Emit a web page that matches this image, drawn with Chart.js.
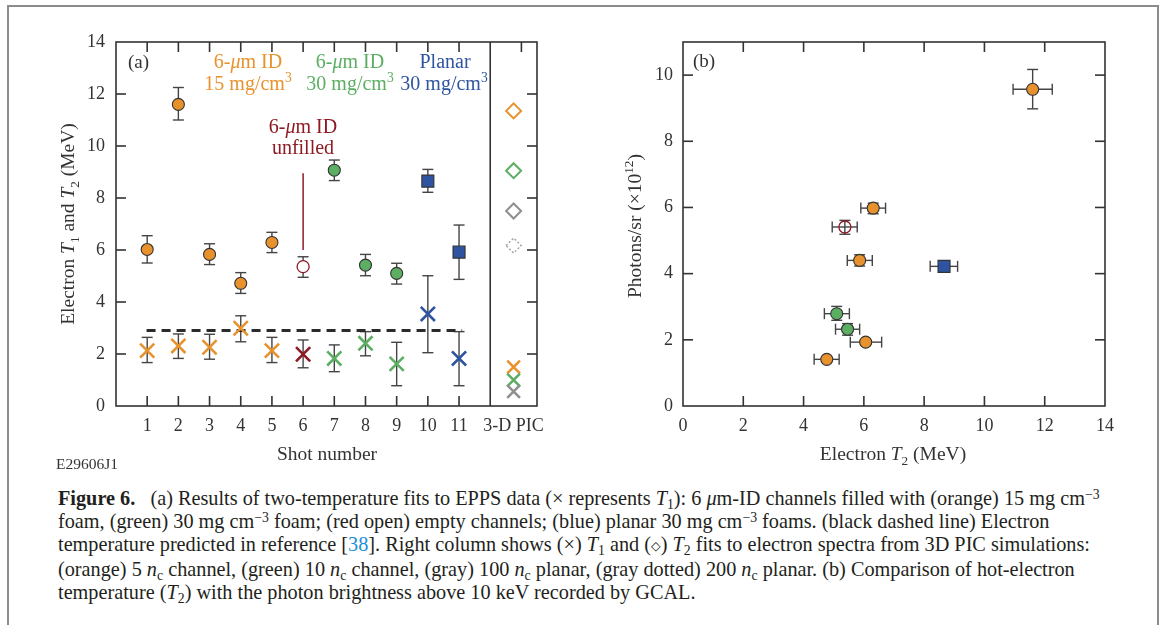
<!DOCTYPE html>
<html><head><meta charset="utf-8">
<script src="https://cdn.jsdelivr.net/npm/chart.js@4.4.1/dist/chart.umd.min.js"></script>
<style>
html,body{margin:0;padding:0;background:#fff;}
body{width:1165px;height:625px;position:relative;overflow:hidden;font-family:"Liberation Serif","DejaVu Serif",serif;}
#frame{position:absolute;left:7px;top:5px;width:1152px;height:660px;border:2px solid #8c8c8c;box-sizing:border-box;}
#cA{position:absolute;left:0;top:0;}
#cB{position:absolute;left:580px;top:0;}
#cap{position:absolute;left:58px;top:487px;color:#231f20;line-height:23px;white-space:nowrap;font-size:18.5px;}
.ln{display:block;width:max-content;}
#cap sub,#cap sup{font-size:0.68em;line-height:0;position:relative;vertical-align:baseline;}
#cap sub{top:0.3em;} #cap sup{top:-0.45em;}
.ref{color:#1b8fd6;}
.dia{font-family:"DejaVu Sans",sans-serif;font-size:0.62em;position:relative;top:-0.12em;}
</style></head>
<body>
<div id="frame"></div>
<canvas id="cA" width="580" height="480"></canvas>
<canvas id="cB" width="585" height="480"></canvas>
<div id="cap">
<div class="ln"><b>Figure 6.</b>&nbsp;&nbsp; (a) Results of two-temperature fits to EPPS data (× represents <i>T</i><sub>1</sub>): 6 <i>μ</i>m-ID channels filled with (orange) 15 mg cm<sup>−3</sup></div>
<div class="ln">foam, (green) 30 mg cm<sup>−3</sup> foam; (red open) empty channels; (blue) planar 30 mg cm<sup>−3</sup> foams. (black dashed line) Electron</div>
<div class="ln">temperature predicted in reference [<span class="ref">38</span>]. Right column shows (×) <i>T</i><sub>1</sub> and (<span class="dia">◇</span>) <i>T</i><sub>2</sub> fits to electron spectra from 3D PIC simulations:</div>
<div class="ln">(orange) 5 <i>n</i><sub>c</sub> channel, (green) 10 <i>n</i><sub>c</sub> channel, (gray) 100 <i>n</i><sub>c</sub> planar, (gray dotted) 200 <i>n</i><sub>c</sub> planar. (b) Comparison of hot-electron</div>
<div class="ln">temperature (<i>T</i><sub>2</sub>) with the photon brightness above 10 keV recorded by GCAL.</div>
</div>
<script>
// ---------------- Panel (a) data ----------------
const shotNumbers = [1, 2, 3, 4, 5, 6, 7, 8, 9, 10, 11];
const shotGroups  = ['o15','o15','o15','o15','o15','unf','g30','g30','g30','pl','pl'];
const t2Values = [6.02, 11.60, 5.83, 4.72, 6.29, 5.36, 9.07, 5.42, 5.10, 8.65, 5.92];
const t2Low    = [5.50, 11.00, 5.44, 4.33, 5.90, 4.95, 8.67, 5.01, 4.69, 8.22, 4.87];
const t2High   = [6.55, 12.25, 6.24, 5.13, 6.68, 5.74, 9.46, 5.83, 5.49, 9.10, 6.96];
const t1Values = [2.13, 2.31, 2.26, 2.99, 2.13, 1.99, 1.83, 2.41, 1.62, 3.54, 1.83];
const t1Low    = [1.67, 1.83, 1.80, 2.47, 1.67, 1.47, 1.32, 1.93, 0.78, 2.05, 0.78];
const t1High   = [2.64, 2.77, 2.76, 3.47, 2.64, 2.54, 2.35, 2.86, 2.45, 5.01, 2.86];
const picX = 12.75;
const picT2Values = [11.35, 9.05, 7.50];   // orange, green, gray
const picT2Dotted = [6.17];                // gray dotted (200 nc planar)
const picT1Values = [1.50, 1.00, 0.56];    // orange, green, gray
const predictedT1 = 2.9;
const predictedFrom = 0.98, predictedTo = 11.1;
const unfilledLine = [6.0, 8.95];          // annotation pointer at shot 6
const dividerX = 12;
const xTickValues = [1, 2, 3, 4, 5, 6, 7, 8, 9, 10, 11, 12.75];
const xTickLabels = ['1','2','3','4','5','6','7','8','9','10','11','3-D PIC'];
const yTickValuesA = [0, 2, 4, 6, 8, 10, 12, 14];

// ---------------- Panel (b) data ----------------
const bOrangeT2   = [11.60, 6.31, 5.86, 6.06, 4.77];
const bOrangePh   = [9.57, 5.98, 4.40, 1.93, 1.41];
const bOrangeXErr = [[10.95,12.25],[5.90,6.72],[5.45,6.28],[5.55,6.59],[4.35,5.18]];
const bOrangeYErr = [[8.98,10.17],[5.81,6.13],[4.23,4.57],null,null];
const bUnfT2 = [5.37], bUnfPh = [5.41];
const bUnfXErr = [[4.95,5.78]], bUnfYErr = [[5.19,5.61]];
const bGreenT2 = [5.10, 5.46], bGreenPh = [2.79, 2.32];
const bGreenXErr = [[4.69,5.52],[5.06,5.86]], bGreenYErr = [[2.59,3.01],[2.14,2.49]];
const bPlanarT2 = [8.66], bPlanarPh = [4.22];
const bPlanarXErr = [[8.20,9.11]], bPlanarYErr = [null];
const xTickValuesB = [0, 2, 4, 6, 8, 10, 12, 14];
const yTickValuesB = [0, 2, 4, 6, 8, 10];

// ---------------- styles ----------------
const SERIF = '"Liberation Serif", "DejaVu Serif", serif';
const ORANGE = '#E8922E', GREEN = '#5BAE62', BLUE = '#2E54A1', DRED = '#8E1B24', GRAY = '#8F8F8F';
const INK = '#333333', ERR = '#444444';
Chart.defaults.font.family = SERIF;
Chart.defaults.color = INK;

const groupStyle = {
  o15: {color: ORANGE, style: 'circle', fill: ORANGE, border: INK, r: 6},
  unf: {color: DRED,   style: 'circle', fill: '#ffffff', border: DRED, r: 6},
  g30: {color: GREEN,  style: 'circle', fill: GREEN, border: INK, r: 6},
  pl:  {color: BLUE,   style: 'rect',   fill: BLUE, border: INK, r: 8.5}
};

function line(ctx, x1, y1, x2, y2) { ctx.beginPath(); ctx.moveTo(x1, y1); ctx.lineTo(x2, y2); ctx.stroke(); }
function fontOf(r) { return (r.i ? 'italic ' : '') + (r.b ? 'bold ' : '') + r.s + 'px ' + SERIF; }
function drawRich(ctx, it) {
  const base = it.size || 19.5;
  const runs = it.runs.map(r => {
    const rr = Object.assign({}, r);
    rr.s = base; rr.dy = 0;
    if (r.sup) { rr.s = base * 0.68; rr.dy = -base * 0.42; }
    if (r.sub) { rr.s = base * 0.68; rr.dy = base * 0.28; }
    return rr;
  });
  ctx.save();
  ctx.translate(it.x, it.y);
  if (it.rotate) ctx.rotate(-Math.PI / 2);
  let w = 0;
  runs.forEach(r => { ctx.font = fontOf(r); w += ctx.measureText(r.t).width; });
  let cx = it.align === 'left' ? 0 : it.align === 'right' ? -w : -w / 2;
  ctx.textAlign = 'left'; ctx.textBaseline = 'alphabetic';
  runs.forEach(r => {
    ctx.font = fontOf(r); ctx.fillStyle = it.color || INK;
    ctx.fillText(r.t, cx, r.dy);
    cx += ctx.measureText(r.t).width;
  });
  ctx.restore();
}

const errorBars = {
  id: 'errorBars',
  beforeDatasetsDraw(chart) {
    const {ctx, scales: {x, y}} = chart;
    const cap = 5.5;
    ctx.save(); ctx.strokeStyle = ERR; ctx.lineWidth = 1.4;
    chart.data.datasets.forEach(ds => {
      ds.data.forEach((p, i) => {
        const px = x.getPixelForValue(p.x), py = y.getPixelForValue(p.y);
        const ey = ds.errY && ds.errY[i];
        if (ey) {
          const y1 = y.getPixelForValue(ey[0]), y2 = y.getPixelForValue(ey[1]);
          line(ctx, px, y1, px, y2); line(ctx, px - cap, y1, px + cap, y1); line(ctx, px - cap, y2, px + cap, y2);
        }
        const ex = ds.errX && ds.errX[i];
        if (ex) {
          const x1 = x.getPixelForValue(ex[0]), x2 = x.getPixelForValue(ex[1]);
          line(ctx, x1, py, x2, py); line(ctx, x1, py - cap, x1, py + cap); line(ctx, x2, py - cap, x2, py + cap);
        }
      });
    });
    ctx.restore();
  }
};

const annotations = {
  id: 'annotations',
  beforeDatasetsDraw(chart, args, opts) {
    const {ctx, scales: {x, y}} = chart;
    if (opts.dashed) {
      ctx.save(); ctx.strokeStyle = '#2b2b2b'; ctx.lineWidth = 3; ctx.setLineDash([9, 6]);
      const yy = y.getPixelForValue(opts.dashed.y);
      line(ctx, x.getPixelForValue(opts.dashed.from), yy, x.getPixelForValue(opts.dashed.to), yy);
      ctx.restore();
    }
    if (opts.pointer) {
      ctx.save(); ctx.strokeStyle = DRED; ctx.lineWidth = 1.5;
      const px = x.getPixelForValue(opts.pointer.x);
      line(ctx, px, y.getPixelForValue(opts.pointer.from), px, y.getPixelForValue(opts.pointer.to));
      ctx.restore();
    }
  },
  beforeDatasetDraw(chart, args) {
    const ds = chart.data.datasets[args.index];
    if (ds.dotted) { chart.ctx.save(); chart.ctx.setLineDash([2, 2]); }
  },
  afterDatasetDraw(chart, args) {
    const ds = chart.data.datasets[args.index];
    if (ds.dotted) { chart.ctx.restore(); }
  }
};

const frameTicks = {
  id: 'frameTicks',
  afterDatasetsDraw(chart, args, o) {
    const {ctx, chartArea: a, scales: {x, y}} = chart;
    const L = 10;
    ctx.save(); ctx.strokeStyle = INK; ctx.lineWidth = 1.6;
    ctx.strokeRect(a.left, a.top, a.right - a.left, a.bottom - a.top);
    (o.dividers || []).forEach(v => { const px = x.getPixelForValue(v); line(ctx, px, a.top, px, a.bottom); });
    (o.top || []).forEach(v => { const px = x.getPixelForValue(v); line(ctx, px, a.top, px, a.top + L); });
    (o.bottom || []).forEach(v => { const px = x.getPixelForValue(v); line(ctx, px, a.bottom, px, a.bottom - L); });
    (o.left || []).forEach(v => { const py = y.getPixelForValue(v); line(ctx, a.left, py, a.left + L, py); });
    (o.right || []).forEach(v => { const py = y.getPixelForValue(v); line(ctx, a.right, py, a.right - L, py); });
    ctx.restore();
  }
};

const texts = {
  id: 'texts',
  afterDraw(chart, args, o) { (o.items || []).forEach(it => drawRich(chart.ctx, it)); }
};

// ---------------- build datasets (a) ----------------
const dsA = [];
['o15', 'unf', 'g30', 'pl'].forEach(g => {
  const idx = shotNumbers.map((s, i) => i).filter(i => shotGroups[i] === g);
  const st = groupStyle[g];
  dsA.push({
    label: 'T1 ' + g, order: 2,
    data: idx.map(i => ({x: shotNumbers[i], y: t1Values[i]})),
    errY: idx.map(i => [t1Low[i], t1High[i]]),
    pointStyle: 'crossRot', pointRadius: 10, pointHoverRadius: 10,
    pointBorderColor: st.color, pointBackgroundColor: st.color, pointBorderWidth: 2.6, pointHoverBorderWidth: 2.6
  });
  dsA.push({
    label: 'T2 ' + g, order: 1,
    data: idx.map(i => ({x: shotNumbers[i], y: t2Values[i]})),
    errY: idx.map(i => [t2Low[i], t2High[i]]),
    pointStyle: st.style, pointRadius: st.r, pointHoverRadius: st.r,
    pointBackgroundColor: st.fill, pointBorderColor: st.border,
    pointBorderWidth: g === 'unf' ? 1.3 : 1.1, pointHoverBorderWidth: 1.1
  });
});
dsA.push({
  label: 'PIC T2', data: picT2Values.map(v => ({x: picX, y: v})),
  pointStyle: 'rectRot', pointRadius: 7.5, pointHoverRadius: 7.5,
  pointBackgroundColor: '#ffffff', pointBorderColor: [ORANGE, GREEN, GRAY], pointBorderWidth: 2
});
dsA.push({
  label: 'PIC T2 dotted', dotted: true, data: picT2Dotted.map(v => ({x: picX, y: v})),
  pointStyle: 'rectRot', pointRadius: 7.5, pointHoverRadius: 7.5,
  pointBackgroundColor: '#ffffff', pointBorderColor: '#a0a0a0', pointBorderWidth: 1.4
});
dsA.push({
  label: 'PIC T1', data: picT1Values.map(v => ({x: picX, y: v})),
  pointStyle: 'crossRot', pointRadius: 9, pointHoverRadius: 9,
  pointBorderColor: [ORANGE, GREEN, GRAY], pointBorderWidth: 2.6
});

const tickFont = {family: SERIF, size: 18};

new Chart(document.getElementById('cA'), {
  type: 'scatter',
  data: {datasets: dsA},
  options: {
    responsive: false, animation: false, devicePixelRatio: 1, events: [],
    layout: {padding: {top: 42, right: 43, left: 0, bottom: 0}},
    scales: {
      x: {
        type: 'linear', position: 'bottom', min: 0, max: 13.5,
        grid: {display: false, drawTicks: false}, border: {display: false},
        afterBuildTicks: s => { s.ticks = xTickValues.map(v => ({value: v})); },
        ticks: {autoSkip: false, maxRotation: 0, font: tickFont, color: INK, padding: 9,
                callback: (v, i) => xTickLabels[i]},
        afterFit: s => { s.height = 74; }
      },
      y: {
        type: 'linear', min: 0, max: 14,
        grid: {display: false, drawTicks: false}, border: {display: false},
        afterBuildTicks: s => { s.ticks = yTickValuesA.map(v => ({value: v})); },
        ticks: {font: tickFont, color: INK, padding: 11},
        afterFit: s => { s.width = 116; }
      }
    },
    plugins: {
      legend: {display: false}, tooltip: {enabled: false},
      annotations: {dashed: {y: predictedT1, from: predictedFrom, to: predictedTo},
                    pointer: {x: 6, from: unfilledLine[0], to: unfilledLine[1]}},
      frameTicks: {dividers: [dividerX], top: [1,2,3,4,5,6,7,8,9,10,11,13], bottom: [1,2,3,4,5,6,7,8,9,10,11],
                   left: [2,4,6,8,10,12], right: [2,4,6,8,10,12]},
      texts: {items: [
        {runs: [{t: '(a)'}], x: 128, y: 68, align: 'left', size: 19},
        {runs: [{t: '6-'}, {t: 'μ', i: true}, {t: 'm ID'}], x: 248, y: 68, color: ORANGE, size: 20},
        {runs: [{t: '15 mg/cm'}, {t: '3', sup: true}], x: 248, y: 90, color: ORANGE, size: 20},
        {runs: [{t: '6-'}, {t: 'μ', i: true}, {t: 'm ID'}], x: 350, y: 68, color: GREEN, size: 20},
        {runs: [{t: '30 mg/cm'}, {t: '3', sup: true}], x: 350, y: 90, color: GREEN, size: 20},
        {runs: [{t: 'Planar'}], x: 445, y: 68, color: BLUE, size: 20},
        {runs: [{t: '30 mg/cm'}, {t: '3', sup: true}], x: 444, y: 90, color: BLUE, size: 20},
        {runs: [{t: '6-'}, {t: 'μ', i: true}, {t: 'm ID'}], x: 303, y: 133, color: DRED, size: 20},
        {runs: [{t: 'unfilled'}], x: 303, y: 154, color: DRED, size: 20},
        {runs: [{t: 'Shot number'}], x: 327, y: 460, size: 19.5},
        {runs: [{t: 'Electron '}, {t: 'T', i: true}, {t: '1', sub: true}, {t: ' and '}, {t: 'T', i: true}, {t: '2', sub: true}, {t: ' (MeV)'}],
         x: 74, y: 224, rotate: true, size: 19.5},
        {runs: [{t: 'E29606J1'}], x: 56, y: 469, align: 'left', size: 15.5}
      ]}
    }
  },
  plugins: [errorBars, annotations, frameTicks, texts]
});

// ---------------- build datasets (b) ----------------
function xy(xs, ys) { return xs.map((v, i) => ({x: v, y: ys[i]})); }
const dsB = [
  {label: 'orange 15 mg/cm3', data: xy(bOrangeT2, bOrangePh), errX: bOrangeXErr, errY: bOrangeYErr,
   pointStyle: 'circle', pointRadius: 6, pointBackgroundColor: ORANGE, pointBorderColor: INK, pointBorderWidth: 1.1},
  {label: 'unfilled', data: xy(bUnfT2, bUnfPh), errX: bUnfXErr, errY: bUnfYErr,
   pointStyle: 'circle', pointRadius: 6, pointBackgroundColor: 'rgba(0,0,0,0)', pointBorderColor: DRED, pointBorderWidth: 1.3},
  {label: 'green 30 mg/cm3', data: xy(bGreenT2, bGreenPh), errX: bGreenXErr, errY: bGreenYErr,
   pointStyle: 'circle', pointRadius: 6, pointBackgroundColor: GREEN, pointBorderColor: INK, pointBorderWidth: 1.1},
  {label: 'planar', data: xy(bPlanarT2, bPlanarPh), errX: bPlanarXErr, errY: bPlanarYErr,
   pointStyle: 'rect', pointRadius: 8.5, pointBackgroundColor: BLUE, pointBorderColor: INK, pointBorderWidth: 1.1}
];

new Chart(document.getElementById('cB'), {
  type: 'scatter',
  data: {datasets: dsB},
  options: {
    responsive: false, animation: false, devicePixelRatio: 1, events: [],
    layout: {padding: {top: 42, right: 60, left: 0, bottom: 0}},
    scales: {
      x: {
        type: 'linear', position: 'bottom', min: 0, max: 14,
        grid: {display: false, drawTicks: false}, border: {display: false},
        afterBuildTicks: s => { s.ticks = xTickValuesB.map(v => ({value: v})); },
        ticks: {autoSkip: false, maxRotation: 0, font: tickFont, color: INK, padding: 9},
        afterFit: s => { s.height = 74; }
      },
      y: {
        type: 'linear', min: 0, max: 11,
        grid: {display: false, drawTicks: false}, border: {display: false},
        afterBuildTicks: s => { s.ticks = yTickValuesB.map(v => ({value: v})); },
        ticks: {font: tickFont, color: INK, padding: 10},
        afterFit: s => { s.width = 103; }
      }
    },
    plugins: {
      legend: {display: false}, tooltip: {enabled: false},
      frameTicks: {top: [2,4,6,8,10,12], bottom: [2,4,6,8,10,12], left: [2,4,6,8,10], right: [2,4,6,8,10]},
      texts: {items: [
        {runs: [{t: '(b)'}], x: 113, y: 67, align: 'left', size: 19},
        {runs: [{t: 'Electron '}, {t: 'T', i: true}, {t: '2', sub: true}, {t: ' (MeV)'}], x: 313, y: 460, size: 19.5},
        {runs: [{t: 'Photons/sr (×10'}, {t: '12', sup: true}, {t: ')'}], x: 61, y: 226, rotate: true, size: 19.5}
      ]}
    }
  },
  plugins: [errorBars, annotations, frameTicks, texts]
});

// fit caption width to the reference's first line
(function fitCaption() {
  const cap = document.getElementById('cap');
  const first = cap.querySelector('.ln');
  const w = first.getBoundingClientRect().width;
  if (w > 0) {
    const fs = 18.5 * 1042 / w;
    cap.style.fontSize = fs.toFixed(2) + 'px';
  }
})();
</script>
</body></html>
